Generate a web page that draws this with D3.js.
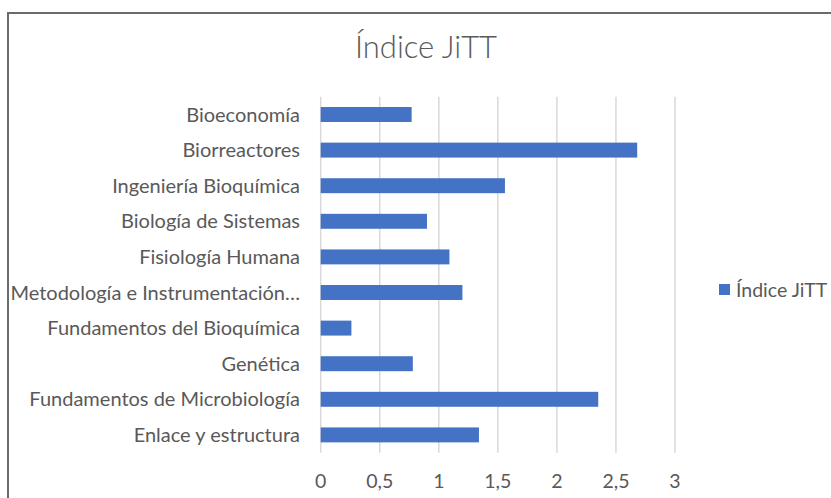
<!DOCTYPE html>
<html>
<head>
<meta charset="utf-8">
<script src="https://cdn.jsdelivr.net/npm/d3@7"></script>
<style>
  html, body { margin: 0; padding: 0; background: #fff; }
  svg { display: block; }
  text { font-family: Lato, "Open Sans", sans-serif; fill: #595959; }
</style>
</head>
<body>
<svg id="chart" width="831" height="498"></svg>
<script>
const categories = [
  "Bioeconomía",
  "Biorreactores",
  "Ingeniería Bioquímica",
  "Biología de Sistemas",
  "Fisiología Humana",
  "Metodología e Instrumentación…",
  "Fundamentos del Bioquímica",
  "Genética",
  "Fundamentos de Microbiología",
  "Enlace y estructura"
];
const values = [0.77, 2.68, 1.56, 0.90, 1.09, 1.20, 0.26, 0.78, 2.35, 1.34];
const tickValues = [0, 0.5, 1, 1.5, 2, 2.5, 3];
const tickLabels = ["0", "0,5", "1", "1,5", "2", "2,5", "3"];
const seriesName = "Índice JiTT";
const title = "Índice JiTT";

const svg = d3.select("#chart");

// frame
svg.append("path")
  .attr("d", "M8,498 L8,13 L831,13")
  .attr("fill", "none")
  .attr("stroke", "#6b6b6b")
  .attr("stroke-width", 2);

const x = d3.scaleLinear().domain([0, 3]).range([320.7, 675]);
const y = d3.scaleBand().domain(categories).range([96.7, 452.7])
  .paddingInner(0.58).paddingOuter(0.29);

// gridlines
svg.append("g").selectAll("line").data(tickValues).join("line")
  .attr("x1", d => x(d)).attr("x2", d => x(d))
  .attr("y1", 96.7).attr("y2", 452.7)
  .attr("stroke", "#d9d9d9").attr("stroke-width", 1.5);

// bars
svg.append("g").selectAll("rect").data(categories).join("rect")
  .attr("x", x(0))
  .attr("y", d => y(d))
  .attr("width", (d, i) => x(values[i]) - x(0))
  .attr("height", y.bandwidth())
  .attr("fill", "#4472C4");

// category labels
svg.append("g").selectAll("text").data(categories).join("text")
  .attr("x", 300)
  .attr("y", d => y(d) + y.bandwidth() / 2)
  .attr("dy", "0.35em")
  .attr("text-anchor", "end")
  .style("font-size", "20px")
  .text(d => d);

// x tick labels
svg.append("g").selectAll("text").data(tickValues).join("text")
  .attr("x", d => x(d))
  .attr("y", 488)
  .attr("text-anchor", "middle")
  .style("font-size", "19.5px")
  .text((d, i) => tickLabels[i]);

// title
svg.append("text")
  .attr("x", 426).attr("y", 58)
  .attr("text-anchor", "middle")
  .style("font-size", "31px")
  .style("font-weight", 300)
  .text(title);

// legend
svg.append("rect")
  .attr("x", 719).attr("y", 284)
  .attr("width", 11).attr("height", 11)
  .attr("fill", "#4472C4");
svg.append("text")
  .attr("x", 736).attr("y", 290)
  .attr("dy", "0.35em")
  .style("font-size", "19.5px")
  .text(seriesName);
</script>
</body>
</html>
